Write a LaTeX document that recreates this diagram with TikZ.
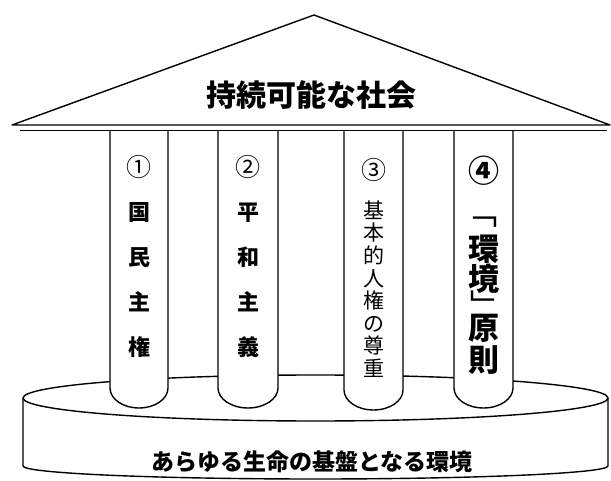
\documentclass[tikz,border=0pt]{standalone}
\usepackage{fontspec}
\newfontfamily\jp{Noto Sans CJK JP}
\begin{document}
\begin{tikzpicture}[x=1pt,y=-1pt,line join=round,
  outline/.style={draw=black,line width=1.4pt},
  pillar/.style={draw=black,line width=1.4pt,fill=white},
  title/.style={font=\jp\bfseries\fontsize{30}{30}\selectfont,inner sep=0pt},
  basetext/.style={font=\jp\bfseries\fontsize{23}{23}\selectfont,inner sep=0pt},
  num/.style={font=\jp\fontsize{25}{25}\selectfont,inner sep=0pt},
  bignum/.style={font=\jp\bfseries\fontsize{31}{31}\selectfont,inner sep=0pt},
  coltext/.style={font=\jp\bfseries\fontsize{22}{45}\selectfont,align=center,inner sep=0pt},
  smalltext/.style={font=\jp\fontsize{21}{22.6}\selectfont,align=center,inner sep=0pt},
  bigchar/.style={font=\jp\bfseries\fontsize{31}{31}\selectfont,inner sep=0pt},
  vbracket/.style={font=\jp\fontsize{33}{33}\selectfont,inner sep=0pt}]
\useasboundingbox (0,0) rectangle (611,481);
% base disk
\fill[white] (23,398) -- (23,466) arc[start angle=180,end angle=0,x radius=292.5,y radius=13] -- (608,398) -- cycle;
\draw[outline] (23,398) -- (23,466) arc[start angle=180,end angle=0,x radius=292.5,y radius=13] -- (608,398);
\draw[outline,fill=white] (315.5,398) ellipse[x radius=292.5,y radius=23];
% pillars
\draw[pillar] (110,131) -- (110,388) arc[start angle=180,end angle=0,x radius=29,y radius=20] -- (168,131);
\draw[pillar] (218,131) -- (218,388) arc[start angle=180,end angle=0,x radius=30,y radius=20] -- (278,131);
\draw[pillar] (344,131) -- (344,390) arc[start angle=180,end angle=0,x radius=29.5,y radius=20] -- (403,131);
\draw[pillar] (454,131) -- (454,388) arc[start angle=180,end angle=0,x radius=29.5,y radius=20] -- (513,131);
% roof
\draw[outline,fill=white] (12,125) -- (314,15) -- (610,125) -- cycle;
\draw[line width=0.8pt] (20,130.5) -- (607,130.5);
% texts
\node[title] (roof) at (311,95) {持続可能な社会};
\node[num] (n1) at (139,167) {①};
\node[num] (n2) at (248,167) {②};
\node[num] (n3) at (373.5,170) {③};
\node[bignum] (n4) at (483.5,171) {④};
\node[coltext] (c1) at (139,280) {国\\民\\主\\権};
\node[coltext] (c2) at (248,280) {平\\和\\主\\義};
\node[smalltext] (c3) at (373.5,289) {基\\本\\的\\人\\権\\の\\尊\\重};
\node[vbracket] (k1) at (480.5,222) {﹁};
\node[bigchar] (k2) at (483.5,249) {環};
\node[bigchar] (k3) at (483.5,279) {境};
\node[vbracket] (k4) at (486.5,305) {﹂};
\node[bigchar] (k5) at (483.5,328) {原};
\node[bigchar] (k6) at (483.5,360) {則};
\node[basetext] (env) at (312,462) {あらゆる生命の基盤となる環境};
\end{tikzpicture}
\end{document}
